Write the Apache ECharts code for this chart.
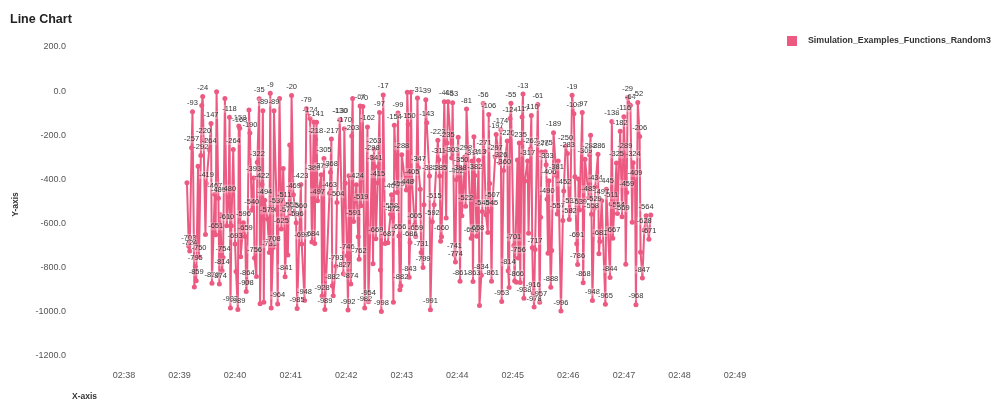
<!DOCTYPE html>
<html>
<head>
<meta charset="utf-8">
<title>Line Chart</title>
<script src="https://cdn.jsdelivr.net/npm/echarts@6/dist/echarts.min.js"></script>
<style>
html, body { margin: 0; padding: 0; background: #fff; }
#main { width: 999px; height: 413px; }
</style>
</head>
<body>
<div id="main"></div>
<script>
"use strict";
let seriesName = 'Simulation_Examples_Functions_Random3';
let yTicks = [-1200, -1000, -800, -600, -400, -200, 0, 200];

let seconds = [
    68,70,71,73,74,76,77,78,80,81,83,84,85,86,88,89,92,94,95,98,
    99,100,102,103,104,106,107,109,111,113,114,115,116,118,120,121,123,124,125,126,
    129,131,132,133,135,136,138,140,141,143,144,146,147,149,150,151,152,155,157,158,
    159,161,162,165,166,168,170,172,173,174,176,177,179,180,181,183,186,187,190,191,
    192,195,197,201,203,204,205,206,207,208,209,213,214,216,217,222,223,224,225,226,
    229,230,233,234,237,238,239,241,242,243,245,246,247,248,251,253,254,255,256,258,
    260,263,264,268,269,270,271,272,274,276,277,278,280,282,285,288,289,290,291,292,
    295,296,297,298,299,300,305,306,307,308,309,310,311,314,315,317,318,320,321,323,
    324,326,327,330,331,333,335,339,340,341,342,343,346,348,349,350,354,355,357,358,
    359,361,362,363,364,365,368,369,370,375,376,377,378,379,381,383,384,386,387,388,
    389,391,393,394,395,396,397,398,401,402,406,407,408,410,414,415,416,417,418,421,
    422,424,425,426,427,428,430,431,432,433,436,437,439,440,441,442,443,444,447,449,
    450,451,455,456,457,458,459,461,462,464,467,468,469,472,474,475,477,479,481,482,
    484,486,487,489,490,491,492,495,496,498,502,503,504,505,506,508,509,512,513,514,
    516,520,521,525,526,527,528,532,533,536,538,540,541,542,543,544,547,549,550,552,
    553,555,557,558,560,562,564,567,569
];
let values = [
    -415,-703,-724,-257,-93,-887,-795,-859,-340,-750,-292,-65,-24,-220,-650,-419,-264,-147,-870,-467,
    -651,-3,-485,-874,-560,-814,-754,-33,-610,-480,-118,-982,-610,-264,-693,-817,-989,-158,-168,-750,
    -596,-659,-908,-864,-85,-190,-540,-393,-756,-840,-322,-35,-963,-422,-89,-957,-494,-579,-731,-9,
    -983,-708,-89,-537,-964,-33,-625,-350,-511,-841,-575,-742,-244,-555,-20,-469,-596,-985,-560,-423,
    -692,-948,-79,-124,-684,-386,-140,-690,-218,-141,-497,-379,-928,-305,-989,-463,-368,-217,-882,-927,
    -793,-504,-130,-130,-827,-170,-417,-746,-992,-383,-874,-203,-33,-591,-424,-660,-762,-67,-519,-70,
    -982,-162,-954,-298,-782,-263,-341,-669,-415,-97,-810,-998,-17,-690,-687,-558,-469,-572,-957,-154,
    -459,-99,-656,-900,-882,-288,-448,-5,-150,-843,-686,-5,-405,-605,-659,-31,-347,-445,-731,-799,
    -515,-39,-143,-385,-991,-592,-515,-223,-311,-385,-680,-660,-48,-575,-235,-48,-303,-53,-741,-774,
    -402,-209,-388,-861,-350,-565,-298,-522,-81,-666,-317,-863,-207,-382,-658,-313,-971,-834,-545,-56,
    -271,-560,-640,-106,-418,-545,-861,-507,-297,-197,-326,-174,-953,-360,-226,-814,-890,-124,-55,-701,
    -860,-866,-312,-756,-235,-867,-117,-13,-938,-407,-317,-644,-262,-110,-709,-916,-978,-717,-61,-957,
    -571,-276,-275,-333,-490,-734,-406,-888,-722,-189,-381,-557,-316,-996,-586,-452,-250,-283,-582,-537,
    -19,-102,-388,-691,-786,-398,-539,-97,-868,-309,-483,-288,-200,-558,-948,-529,-434,-286,-737,-681,
    -497,-965,-445,-844,-511,-138,-667,-325,-554,-182,-569,-116,-289,-784,-459,-29,-64,-594,-324,-409,
    -968,-52,-206,-730,-847,-628,-564,-671,-561
];
// points whose label does not show in the picture
let unlabelled = [
    68,76,80,84,88,100,104,109,116,121,126,135,143,147,151,159,168,172,177,179,
    205,206,226,239,243,247,253,269,277,282,291,298,306,310,320,324,342,348,361,365,
    378,384,391,393,395,416,422,425,428,433,437,441,450,458,462,469,474,487,491,504,
    513,542,549,558,569
];

let start = new Date(2024, 0, 1, 2, 38, 0).getTime();
let chartData = seconds.map(function (s, i) {
    return {
        value: [start + s * 1000, values[i]],
        label: { show: unlabelled.indexOf(s) < 0 }
    };
});

let myChart = echarts.init(document.getElementById('main'));
let option = {
    animation: false,
    textStyle: { fontFamily: '"Liberation Sans", Arial, sans-serif' },
    title: {
        text: 'Line Chart',
        left: 5,
        top: 8,
        textStyle: { fontSize: 12.5, fontWeight: 'bold', color: '#222' }
    },
    legend: {
        data: [seriesName],
        left: 782,
        top: 31,
        icon: 'rect',
        itemWidth: 10,
        itemHeight: 10,
        itemGap: 8,
        textStyle: { fontSize: 8.8, fontWeight: 'bold', color: '#333', padding: [0, 0, 0, 6] }
    },
    grid: { left: 124, right: 264, top: 47, bottom: 57 },
    xAxis: {
        type: 'time',
        position: 'bottom',
        min: start,
        max: start + 11 * 60000,
        minInterval: 60000,
        maxInterval: 60000,
        name: 'X-axis',
        nameLocation: 'start',
        nameGap: 27,
        nameTextStyle: { fontSize: 8.5, fontWeight: 'bold', color: '#333', verticalAlign: 'top', padding: [36, 0, 0, 0] },
        axisLine: { show: false, onZero: false },
        axisTick: { show: false },
        splitLine: { show: false },
        axisLabel: { formatter: '{HH}:{mm}', fontSize: 9, color: '#555', margin: 15, showMinLabel: true, showMaxLabel: true, hideOverlap: false }
    },
    yAxis: {
        type: 'value',
        min: yTicks[0],
        max: yTicks[yTicks.length - 1],
        interval: 200,
        name: 'Y-axis',
        nameLocation: 'middle',
        nameGap: 104,
        nameTextStyle: { fontSize: 8.5, fontWeight: 'bold', color: '#333', padding: [0, 6, 0, 0] },
        axisLine: { show: false },
        axisTick: { show: false },
        splitLine: { show: false },
        axisLabel: {
            fontSize: 9,
            color: '#555',
            margin: 58,
            formatter: function (v) { return v.toFixed(1); }
        }
    },
    series: [{
        name: seriesName,
        type: 'line',
        data: chartData,
        color: '#ec5a82',
        showSymbol: true,
        showAllSymbol: true,
        symbol: 'circle',
        symbolSize: 5,
        lineStyle: { width: 2, color: '#ec5a82' },
        label: {
            show: true,
            position: 'top',
            distance: 2,
            fontSize: 7.5,
            color: '#333',
            backgroundColor: 'rgba(255,255,255,0.28)',
            formatter: function (p) { return p.value[1]; }
        }
    }]
};
myChart.setOption(option);
</script>
</body>
</html>
